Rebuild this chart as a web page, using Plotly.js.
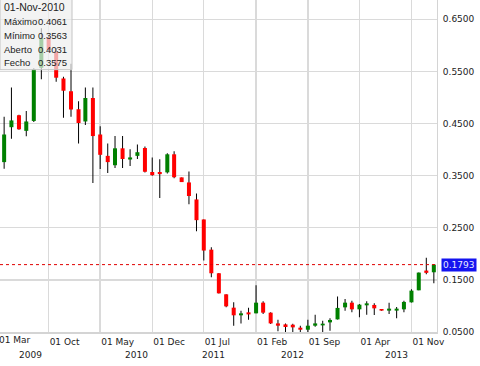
<!DOCTYPE html>
<html>
<head>
<meta charset="utf-8">
<script src="https://cdn.plot.ly/plotly-3.0.1.min.js"></script>
<style>html,body{margin:0;padding:0;background:#fff}#chart{width:480px;height:366px}</style>
</head>
<body>
<div id="chart"></div>
<script>
// Monthly candles (first day of month)
var months = ['2009-04-01','2009-05-01','2009-06-01','2009-07-01','2009-08-01','2009-09-01','2009-10-01','2009-11-01','2009-12-01',
'2010-01-01','2010-02-01','2010-03-01','2010-04-01','2010-05-01','2010-06-01','2010-07-01','2010-08-01','2010-09-01','2010-10-01','2010-11-01','2010-12-01',
'2011-01-01','2011-02-01','2011-03-01','2011-04-01','2011-05-01','2011-06-01','2011-07-01','2011-08-01','2011-09-01','2011-10-01','2011-11-01','2011-12-01',
'2012-01-01','2012-02-01','2012-03-01','2012-04-01','2012-05-01','2012-06-01','2012-07-01','2012-08-01','2012-09-01','2012-10-01','2012-11-01','2012-12-01',
'2013-01-01','2013-02-01','2013-03-01','2013-04-01','2013-05-01','2013-06-01','2013-07-01','2013-08-01','2013-09-01','2013-10-01','2013-11-01','2013-12-01',
'2014-01-01','2014-02-01'];
var openV = [0.376,0.443,0.466,0.436,0.455,0.557,0.615,0.588,0.5365,
0.512,0.4775,0.454,0.499,0.429,0.388,0.370,0.4025,0.381,0.388,0.4031,0.357,
0.357,0.3563,0.391,0.3467,0.337,0.3044,0.266,0.208,0.1627,0.1223,0.0967,0.082,
0.0877,0.0858,0.1063,0.0871,0.0665,0.0646,0.0640,0.0583,0.0544,0.0621,0.0627,0.0685,
0.0742,0.0973,0.1063,0.0935,0.1012,0.1019,0.0942,0.091,0.091,0.0935,0.1069,0.130,
0.1679,0.1646];
var highV = [0.463,0.519,0.467,0.474,0.556,0.633,0.618,0.595,0.540,
0.565,0.493,0.519,0.519,0.445,0.4115,0.426,0.426,0.4006,0.410,0.4061,0.385,
0.3813,0.393,0.397,0.3467,0.358,0.316,0.266,0.2127,0.163,0.1223,0.107,0.091,
0.0967,0.1396,0.1089,0.088,0.0737,0.0665,0.0660,0.0621,0.0737,0.0833,0.0717,0.0762,
0.1179,0.1135,0.1102,0.1038,0.1089,0.105,0.0942,0.1063,0.0981,0.1102,0.1319,0.164,
0.1923,0.1793];
var lowV = [0.3635,0.421,0.438,0.4256,0.453,0.535,0.589,0.530,0.461,
0.463,0.4115,0.447,0.336,0.363,0.355,0.3646,0.3646,0.3685,0.382,0.3563,0.350,
0.307,0.354,0.345,0.3377,0.295,0.2435,0.187,0.155,0.124,0.0973,0.0621,0.0665,
0.0737,0.0858,0.0846,0.0654,0.0512,0.048,0.047,0.047,0.0473,0.0602,0.0473,0.0525,
0.074,0.091,0.0877,0.0781,0.0833,0.0827,0.091,0.0846,0.0762,0.0877,0.1065,0.130,
0.1608,0.1435];
var closeV = [0.429,0.456,0.439,0.454,0.554,0.614,0.591,0.538,0.513,
0.477,0.451,0.499,0.426,0.390,0.376,0.4025,0.382,0.385,0.395,0.3575,0.351,
0.353,0.391,0.347,0.3377,0.311,0.2646,0.2063,0.1627,0.1242,0.0992,0.082,0.0858,
0.0838,0.1063,0.0871,0.0665,0.0621,0.0596,0.0589,0.0544,0.0621,0.0665,0.0660,0.0731,
0.0962,0.1063,0.0935,0.1025,0.105,0.0954,0.091,0.0948,0.0948,0.1077,0.1294,0.164,
0.1635,0.1793];

var yTicks = [0.05,0.15,0.25,0.35,0.45,0.55,0.65];
var xTickVals = ['2009-10-01','2010-05-01','2010-12-01','2011-07-01','2012-02-01','2012-09-01','2013-04-01','2013-11-01'];
var xTickText = ['01 Oct','01 May','01 Dec','01 Jul','01 Feb','01 Sep','01 Apr','01 Nov'];
var firstTickText = '01 Mar';
var yearLabels = ['2009','2010','2011','2012','2013'];
var yearPos = [31,136,213,292,396]; // pixel centres along the plot width

var tipDate = '01-Nov-2010';
var tipLabels = ['Máximo','Mínimo','Aberto','Fecho'];
var tipValues = ['0.4061','0.3563','0.4031','0.3575'];
var lastPrice = closeV[closeV.length-1];

var PW = 437, PH = 332;
var DAY = 86400000;
var FONT = 'DejaVu Sans';
var TIPFONT = 'Liberation Sans';
var TXT = '#222';

var wickBase = [], wickLen = [], bodyBase = [], bodyLen = [], bodyCol = [];
for (var i = 0; i < months.length; i++) {
  wickBase.push(lowV[i]); wickLen.push(highV[i]-lowV[i]);
  bodyBase.push(openV[i]); bodyLen.push(closeV[i]-openV[i]);
  bodyCol.push(closeV[i] >= openV[i] ? '#008000' : '#ff0000');
}

var traces = [
  {type:'bar', x:months, base:wickBase, y:wickLen, width:4.1*DAY,
   marker:{color:'#000', line:{width:0}}, hoverinfo:'skip'},
  {type:'bar', x:months, base:bodyBase, y:bodyLen, width:16.5*DAY,
   marker:{color:bodyCol, line:{width:0}}, hoverinfo:'skip'}
];

var ann = [];
ann.push({xref:'paper', yref:'paper', x:-3.3/PW, y:-(340-PH)/PH, xanchor:'left', yanchor:'middle',
  text:firstTickText, showarrow:false, font:{family:FONT,size:9,color:TXT}});
for (var k = 0; k < yearLabels.length; k++) {
  ann.push({xref:'paper', yref:'paper', x:yearPos[k]/PW, y:-(355-PH)/PH, xanchor:'center', yanchor:'middle',
    text:yearLabels[k], showarrow:false, font:{family:FONT,size:9,color:TXT}});
}
var rowY = [7.5,21.5,35.3,49.3,62.5];
ann.push({xref:'paper', yref:'paper', x:2.0/PW, y:1-rowY[0]/PH, xanchor:'left', yanchor:'middle',
  text:tipDate, showarrow:false, font:{family:TIPFONT,size:10.5,color:TXT}});
for (var r = 0; r < tipLabels.length; r++) {
  ann.push({xref:'paper', yref:'paper', x:2.0/PW, y:1-rowY[r+1]/PH, xanchor:'left', yanchor:'middle',
    text:tipLabels[r], showarrow:false, font:{family:TIPFONT,size:9.5,color:TXT}});
  ann.push({xref:'paper', yref:'paper', x:69/PW, y:1-rowY[r+1]/PH, xanchor:'right', yanchor:'middle',
    text:tipValues[r], showarrow:false, font:{family:TIPFONT,size:9.5,color:TXT}});
}
ann.push({xref:'paper', yref:'y', x:441/PW, y:lastPrice, xanchor:'left', yanchor:'middle',
  text:lastPrice.toFixed(4), showarrow:false, bgcolor:'#1414f0', borderpad:1,
  font:{family:FONT,size:9,color:'#e8e8ff'}});

var layout = {
  width:480, height:366,
  margin:{l:0, r:480-PW, t:0, b:366-PH, pad:0},
  paper_bgcolor:'#fff', plot_bgcolor:'#fff',
  showlegend:false, barmode:'overlay', hovermode:false,
  xaxis:{type:'date', range:['2009-03-15','2014-02-14'], tickmode:'array', tickvals:xTickVals, ticktext:xTickText,
    ticklabelposition:'outside right', ticks:'', showgrid:true, gridcolor:'#dadada', gridwidth:1.4,
    showline:true, linecolor:'#d4d4d4', linewidth:2, zeroline:false,
    tickfont:{family:FONT,size:9,color:TXT}},
  yaxis:{side:'right', range:[0.05, 0.6871], tickmode:'array', tickvals:yTicks, tickformat:'.4f',
    ticks:'outside', ticklen:3, tickcolor:'rgba(0,0,0,0)', showgrid:true, gridcolor:'#dadada', gridwidth:1.4,
    showline:true, linecolor:'#d4d4d4', linewidth:1, zeroline:false,
    tickfont:{family:FONT,size:9,color:TXT}},
  shapes:[
    {type:'line', xref:'paper', yref:'y', x0:0, x1:1, y0:lastPrice, y1:lastPrice,
     line:{color:'#e00000', width:1, dash:'3px,3px'}},
    {type:'rect', xref:'paper', yref:'paper', x0:0, x1:72/PW, y0:1-69.7/PH, y1:1.01, layer:'above',
     fillcolor:'rgba(238,238,238,0.7)', line:{color:'#c4c4c4', width:1}}
  ],
  annotations:ann
};
Plotly.newPlot('chart', traces, layout, {staticPlot:true, displayModeBar:false});
</script>
</body>
</html>
